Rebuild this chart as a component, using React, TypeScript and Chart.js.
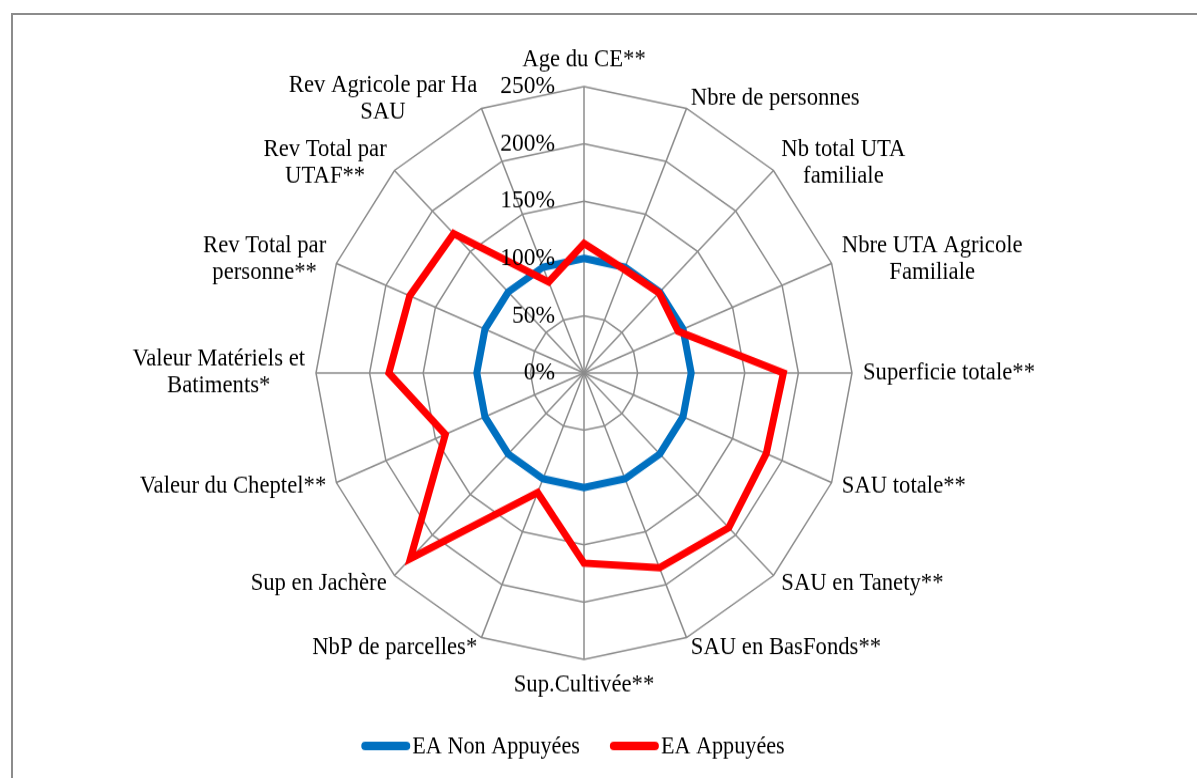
import React, { useEffect, useRef } from 'react';
import { Chart, registerables } from 'chart.js';

Chart.register(...registerables);

const CATEGORIES: (string | string[])[] = [
  'Age du CE**',
  'Nbre de personnes',
  ['Nb total UTA', 'familiale'],
  ['Nbre UTA Agricole', 'Familiale'],
  'Superficie totale**',
  'SAU totale**',
  'SAU en Tanety**',
  'SAU en BasFonds**',
  'Sup.Cultivée**',
  'NbP de parcelles*',
  'Sup en Jachère',
  'Valeur du Cheptel**',
  ['Valeur Matériels et', 'Batiments*'],
  ['Rev Total par', 'personne**'],
  ['Rev Total par', 'UTAF**'],
  ['Rev Agricole par Ha', 'SAU'],
];

const SERIES_NAMES = ['EA Non Appuyées', 'EA Appuyées'];
const SERIES_COLORS = ['#0070C0', '#FF0000'];
const NON_APPUYEES = [100, 100, 100, 100, 100, 100, 100, 100, 100, 100, 100, 100, 100, 100, 100, 100];
const APPUYEES = [113, 98, 99, 95, 186, 184, 191, 184, 166, 113, 229, 140, 182, 176, 172, 86];

const TICK_VALUES = [0, 50, 100, 150, 200, 250];
const TICK_LABELS = ['0%', '50%', '100%', '150%', '200%', '250%'];

const FONT = "'Liberation Serif', 'Times New Roman', serif";
const CANVAS_W = 1197;
const CANVAS_H = 728;
const SY = 778 / CANVAS_H;

export default function App() {
  const ref = useRef<HTMLCanvasElement>(null);

  useEffect(() => {
    const canvas = ref.current;
    if (!canvas) return;
    document.body.style.overflow = 'hidden';

    const textPlugin = {
      id: 'radarTexts',
      afterDatasetsDraw(chart: any) {
        const scale = chart.scales.r;
        const ctx = chart.ctx as CanvasRenderingContext2D;
        ctx.save();
        ctx.fillStyle = '#000';
        // tick labels, left of the vertical axis
        ctx.font = `23.5px ${FONT}`;
        ctx.textAlign = 'right';
        ctx.textBaseline = 'middle';
        TICK_VALUES.forEach((v, i) => {
          const d = scale.getDistanceFromCenterForValue(v);
          ctx.fillText(TICK_LABELS[i], scale.xCenter - 29, scale.yCenter - d);
        });
        // point labels
        ctx.font = `22.7px ${FONT}`;
        ctx.textAlign = 'center';
        const LH = 25;
        const n = CATEGORIES.length;
        CATEGORIES.forEach((lab, i) => {
          const lines = Array.isArray(lab) ? lab : [lab];
          const theta = (i / n) * 2 * Math.PI;
          const s = Math.sin(theta);
          const c = Math.cos(theta);
          const p = scale.getPointPosition(i, scale.drawingArea);
          const w = Math.max(...lines.map((l) => ctx.measureText(l).width));
          const h = lines.length * LH;
          let cx: number;
          let cy: number;
          if (Math.abs(s) < 1e-6) {
            cx = p.x;
            cy = c > 0 ? p.y - 12 - h / 2 : p.y + 12 + h / 2;
          } else {
            const gx = 11 * Math.abs(s);
            cx = s > 0 ? p.x + gx + w / 2 : p.x - gx - w / 2;
            cy = p.y - c * 10;
          }
          lines.forEach((l, k) => {
            ctx.fillText(l, cx, cy - h / 2 + LH * (k + 0.5));
          });
        });

        // legend (line samples + names), centred under the radar
        ctx.font = `22.2px ${FONT}`;
        ctx.textAlign = 'left';
        ctx.textBaseline = 'middle';
        const sampleW = 41;
        const cap = 4;
        const gapText = 2;
        const gapItems = 30;
        const widths = SERIES_NAMES.map((t) => ctx.measureText(t).width);
        const itemW = widths.map((tw) => sampleW + 2 * cap + gapText + tw);
        const total = itemW.reduce((a, b) => a + b, 0) + gapItems * (SERIES_NAMES.length - 1);
        let x = scale.xCenter - 11 - total / 2;
        const ly = 698;
        SERIES_NAMES.forEach((name, i) => {
          ctx.strokeStyle = SERIES_COLORS[i];
          ctx.lineWidth = 8;
          ctx.lineCap = 'round';
          ctx.beginPath();
          ctx.moveTo(x + cap, ly);
          ctx.lineTo(x + cap + sampleW, ly);
          ctx.stroke();
          ctx.fillStyle = '#000';
          ctx.fillText(name, x + sampleW + 2 * cap + gapText, ly + 1);
          x += itemW[i] + gapItems;
        });
        ctx.restore();
      },
    };

    const chart = new Chart(canvas, {
      type: 'radar',
      data: {
        labels: CATEGORIES as any,
        datasets: [
          {
            label: SERIES_NAMES[0],
            data: NON_APPUYEES,
            borderColor: SERIES_COLORS[0],
            backgroundColor: SERIES_COLORS[0],
            fill: false,
            borderWidth: 7,
            pointRadius: 0,
            pointHoverRadius: 0,
            borderJoinStyle: 'miter',
            order: 1,
          },
          {
            label: SERIES_NAMES[1],
            data: APPUYEES,
            borderColor: SERIES_COLORS[1],
            backgroundColor: SERIES_COLORS[1],
            fill: false,
            borderWidth: 7,
            pointRadius: 0,
            pointHoverRadius: 0,
            borderJoinStyle: 'miter',
            order: 0,
          },
        ],
      },
      options: {
        responsive: false,
        animation: false,
        devicePixelRatio: 1,
        layout: { padding: { left: 316, right: 345, top: 34, bottom: 64 } },
        plugins: {
          tooltip: { enabled: false },
          legend: { display: false },
        },
        scales: {
          r: {
            min: 0,
            max: 250,
            ticks: { stepSize: 50, display: false },
            grid: { color: '#8c8c8c', lineWidth: 1.5, circular: false },
            angleLines: { color: '#8c8c8c', lineWidth: 1.5 },
            pointLabels: { display: false },
          },
        },
      } as any,
      plugins: [textPlugin],
    });

    return () => chart.destroy();
  }, []);

  return (
    <>
      <div
        style={{
          position: 'absolute',
          left: 11,
          top: 13,
          width: 1197 - 11 - 2,
          height: 778 - 13 - 2,
          borderLeft: '2px solid #8c8c8c',
          borderTop: '2px solid #8c8c8c',
        }}
      />
      <div
        style={{
          position: 'absolute',
          left: 0,
          top: 0,
          width: CANVAS_W,
          height: CANVAS_H,
          transform: `scale(1, ${SY})`,
          transformOrigin: '0 0',
        }}
      >
        <canvas ref={ref} width={CANVAS_W} height={CANVAS_H} />
      </div>
    </>
  );
}
